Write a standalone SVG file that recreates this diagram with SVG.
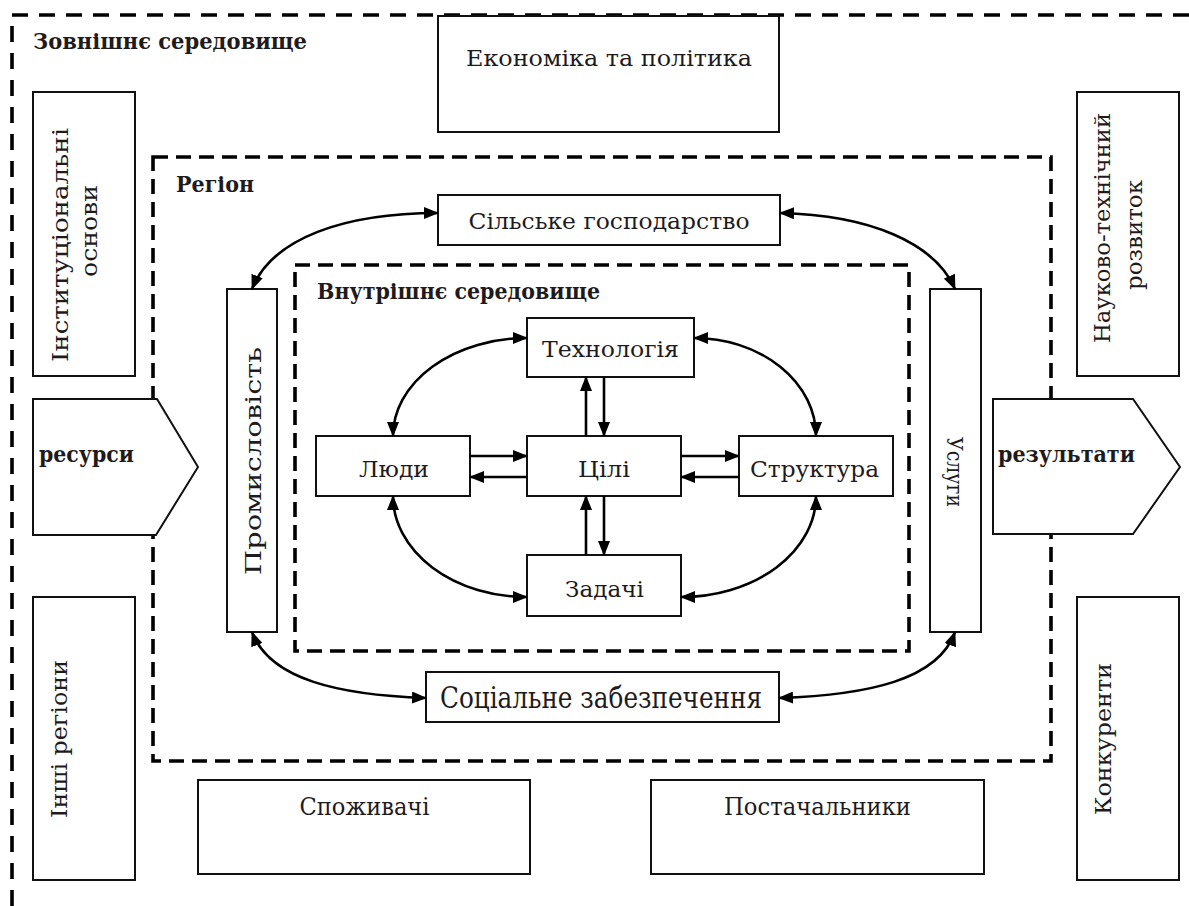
<svg xmlns="http://www.w3.org/2000/svg" width="1189" height="906" viewBox="0 0 1189 906">
<style>
.box{fill:#fff;stroke:#111;stroke-width:2}
.dash1{fill:none;stroke:#000;stroke-width:3.6;stroke-dasharray:16 11}
.dash2{fill:none;stroke:#000;stroke-width:3.6;stroke-dasharray:15 8}
.c{fill:none;stroke:#000;stroke-width:2.6}
.t{font-family:"DejaVu Serif","Liberation Serif",serif;font-size:23px;fill:#1f1b1c;text-anchor:middle}
.b{font-family:"DejaVu Serif","Liberation Serif",serif;font-size:23px;font-weight:bold;fill:#1f1b1c}
</style>
<defs>
<marker id="ah" viewBox="0 0 15 12" refX="14" refY="6" markerWidth="15" markerHeight="12" markerUnits="userSpaceOnUse" orient="auto-start-reverse">
<path d="M0,0 L15,6 L0,12 z" fill="#000"/>
</marker>
</defs>
<rect width="1189" height="906" fill="#fff"/>

<g id="outer">
<path class="dash1" d="M12,906 V15 H1189"/>
<text class="b" x="33" y="49" textLength="274" lengthAdjust="spacingAndGlyphs">Зовнішнє середовище</text>
</g>
<g id="region">
<rect class="dash2" x="153" y="157" width="898" height="604"/>
<text class="b" x="176" y="192" textLength="78" lengthAdjust="spacingAndGlyphs">Регіон</text>
</g>
<g id="inner">
<rect class="dash2" x="295" y="265" width="614" height="386"/>
<text class="b" x="317" y="299" textLength="283" lengthAdjust="spacingAndGlyphs">Внутрішнє середовище</text>
</g>

<g id="economy">
<rect class="box" x="438" y="16" width="341" height="116"/>
<text class="t" x="609" y="66" textLength="286" lengthAdjust="spacingAndGlyphs">Економіка та політика</text>
</g>
<g id="institutions">
<rect class="box" x="33" y="92" width="102" height="284"/>
<text class="t" transform="translate(68,245) rotate(-90)" textLength="234" lengthAdjust="spacingAndGlyphs">Інституціональні</text>
<text class="t" transform="translate(97,231) rotate(-90)" textLength="92" lengthAdjust="spacingAndGlyphs">основи</text>
</g>
<g id="science">
<rect class="box" x="1077" y="92" width="102" height="284"/>
<text class="t" transform="translate(1110,228) rotate(-90)" textLength="230" lengthAdjust="spacingAndGlyphs">Науково-технічний</text>
<text class="t" transform="translate(1142,235) rotate(-90)" textLength="110" lengthAdjust="spacingAndGlyphs">розвиток</text>
</g>
<g id="resources">
<polygon class="box" points="33,399 157,399 198,467 156,535 33,535"/>
<text class="b" x="39" y="462" textLength="95" lengthAdjust="spacingAndGlyphs">ресурси</text>
</g>
<g id="results">
<polygon class="box" points="993,399 1133,399 1180,467 1133,534 993,534"/>
<text class="b" x="998" y="462" textLength="137" lengthAdjust="spacingAndGlyphs">результати</text>
</g>
<g id="other-regions">
<rect class="box" x="33" y="597" width="102" height="283"/>
<text class="t" transform="translate(67,739) rotate(-90)" textLength="158" lengthAdjust="spacingAndGlyphs">Інші регіони</text>
</g>
<g id="competitors">
<rect class="box" x="1077" y="597" width="102" height="283"/>
<text class="t" transform="translate(1111,739) rotate(-90)" textLength="152" lengthAdjust="spacingAndGlyphs">Конкуренти</text>
</g>
<g id="consumers">
<rect class="box" x="198" y="780" width="332" height="94"/>
<text class="t" x="364.5" y="815" style="font-size:25px" textLength="130" lengthAdjust="spacingAndGlyphs">Споживачі</text>
</g>
<g id="suppliers">
<rect class="box" x="651" y="780" width="333" height="94"/>
<text class="t" x="817.5" y="815" style="font-size:25px" textLength="187" lengthAdjust="spacingAndGlyphs">Постачальники</text>
</g>

<g id="agriculture">
<rect class="box" x="438" y="195" width="342" height="50"/>
<text class="t" x="609" y="229" textLength="281" lengthAdjust="spacingAndGlyphs">Сільське господарство</text>
</g>
<g id="industry">
<rect class="box" x="227" y="289" width="50" height="343"/>
<text class="t" transform="translate(261,461) rotate(-90)" textLength="228" lengthAdjust="spacingAndGlyphs">Промисловість</text>
</g>
<g id="services">
<rect class="box" x="930" y="289" width="51" height="343"/>
<text class="t" transform="translate(947,472) rotate(90)" textLength="70" lengthAdjust="spacingAndGlyphs">Услуги</text>
</g>
<g id="social">
<rect class="box" x="426" y="672" width="353" height="50"/>
<text class="t" x="601" y="708" style="font-size:29px" textLength="322" lengthAdjust="spacingAndGlyphs">Соціальне забезпечення</text>
</g>

<g id="technology">
<rect class="box" x="527" y="318" width="167" height="59"/>
<text class="t" x="610.5" y="357" textLength="137" lengthAdjust="spacingAndGlyphs">Технологія</text>
</g>
<g id="people">
<rect class="box" x="316" y="436" width="154" height="60"/>
<text class="t" x="394" y="477" textLength="70" lengthAdjust="spacingAndGlyphs">Люди</text>
</g>
<g id="goals">
<rect class="box" x="527" y="436" width="154" height="60"/>
<text class="t" x="604" y="477" textLength="52" lengthAdjust="spacingAndGlyphs">Цілі</text>
</g>
<g id="structure">
<rect class="box" x="739" y="436" width="154" height="60"/>
<text class="t" x="814.5" y="477" textLength="129" lengthAdjust="spacingAndGlyphs">Структура</text>
</g>
<g id="tasks">
<rect class="box" x="527" y="555" width="154" height="61"/>
<text class="t" x="604.5" y="597" textLength="79" lengthAdjust="spacingAndGlyphs">Задачі</text>
</g>

<g id="connectors">
<path class="c" marker-start="url(#ah)" marker-end="url(#ah)" d="M393,436 A134,98 0 0 1 527,338"/>
<path class="c" marker-start="url(#ah)" marker-end="url(#ah)" d="M694,338 A122,98 0 0 1 816,436"/>
<path class="c" marker-start="url(#ah)" marker-end="url(#ah)" d="M393,496 A134,101 0 0 0 527,597"/>
<path class="c" marker-start="url(#ah)" marker-end="url(#ah)" d="M816,496 A135,101 0 0 1 681,597"/>
<path class="c" marker-end="url(#ah)" d="M586,436 V377"/>
<path class="c" marker-end="url(#ah)" d="M604,377 V436"/>
<path class="c" marker-end="url(#ah)" d="M586,555 V496"/>
<path class="c" marker-end="url(#ah)" d="M604,496 V555"/>
<path class="c" marker-end="url(#ah)" d="M470,456 H527"/>
<path class="c" marker-end="url(#ah)" d="M527,477 H470"/>
<path class="c" marker-end="url(#ah)" d="M681,456 H739"/>
<path class="c" marker-end="url(#ah)" d="M739,477 H681"/>
<path class="c" marker-start="url(#ah)" marker-end="url(#ah)" d="M252,289 C272,238 345,213 438,213"/>
<path class="c" marker-start="url(#ah)" marker-end="url(#ah)" d="M780,213 C870,215 935,243 955,289"/>
<path class="c" marker-start="url(#ah)" marker-end="url(#ah)" d="M252,632 C270,680 340,695 426,698"/>
<path class="c" marker-start="url(#ah)" marker-end="url(#ah)" d="M779,698 C868,695 938,680 955,632"/>
</g>
</svg>
